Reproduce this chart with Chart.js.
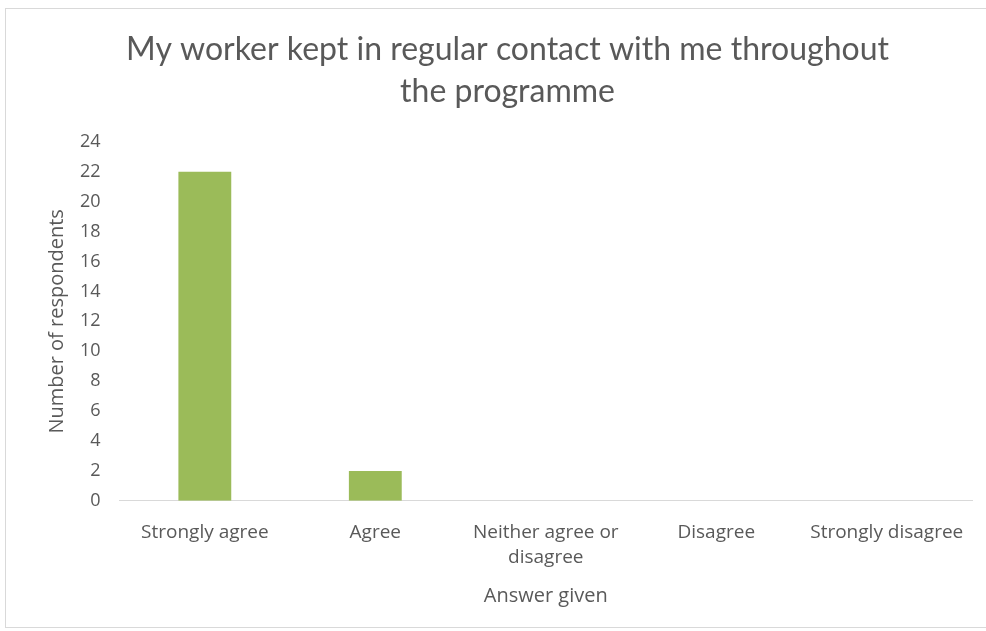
<!DOCTYPE html>
<html>
<head>
<meta charset="utf-8">
<script src="https://cdn.jsdelivr.net/npm/chart.js@4"></script>
<style>
  html, body { margin: 0; padding: 0; background: #fff; }
  #frame {
    position: absolute; left: 5px; top: 8px;
    width: 985px; height: 620px;
    border: 1px solid #d9d9d9; box-sizing: border-box;
  }
  #wrap { position: absolute; left: 0; top: 0; width: 986px; height: 631px; }
</style>
</head>
<body>
<div id="frame"></div>
<div id="wrap"><canvas id="myChart" width="986" height="631"></canvas></div>
<script>
var answers = ['Strongly agree', 'Agree', ['Neither agree or', 'disagree'], 'Disagree', 'Strongly disagree'];
var respondents = [22, 2, 0, 0, 0];
var yTicks = [0, 2, 4, 6, 8, 10, 12, 14, 16, 18, 20, 22, 24];

var grey = '#595959';
var titleFont = 'Lato, sans-serif';
var font = '"Open Sans", sans-serif';

var ctx = document.getElementById('myChart').getContext('2d');

var myChart = new Chart(ctx, {
  type: 'bar',
  data: {
    labels: answers,
    datasets: [{
      label: 'Respondents',
      data: respondents,
      backgroundColor: '#9bbb59',
      barPercentage: 0.31,
      categoryPercentage: 1
    }]
  },
  options: {
    responsive: false,
    animation: false,
    layout: {
      padding: { left: 43, right: 14, top: 29, bottom: 19 }
    },
    plugins: {
      legend: { display: false },
      tooltip: { enabled: false },
      title: {
        display: true,
        text: ['My worker kept in regular contact with me throughout', 'the programme'],
        color: grey,
        font: { family: titleFont, size: 32, weight: 'normal', lineHeight: 1.31 },
        padding: { top: 0, bottom: 29 }
      }
    },
    scales: {
      x: {
        grid: { display: false },
        border: { display: true, color: '#d9d9d9', width: 1 },
        ticks: {
          color: grey,
          font: { family: font, size: 19, lineHeight: 1.32 },
          padding: 11,
          maxRotation: 0
        },
        title: {
          display: true,
          text: 'Answer given',
          color: grey,
          font: { family: font, size: 20 },
          padding: { top: 3 }
        }
      },
      y: {
        min: 0,
        max: 24,
        afterBuildTicks: function (axis) {
          axis.ticks = yTicks.map(function (v) { return { value: v }; });
        },
        grid: { display: false },
        border: { display: false },
        ticks: {
          color: grey,
          font: { family: font, size: 18 },
          padding: 11
        },
        title: {
          display: true,
          text: 'Number of respondents',
          color: grey,
          font: { family: font, size: 20, lineHeight: 1 },
          padding: { bottom: 2 }
        }
      }
    }
  }
});
</script>
</body>
</html>
